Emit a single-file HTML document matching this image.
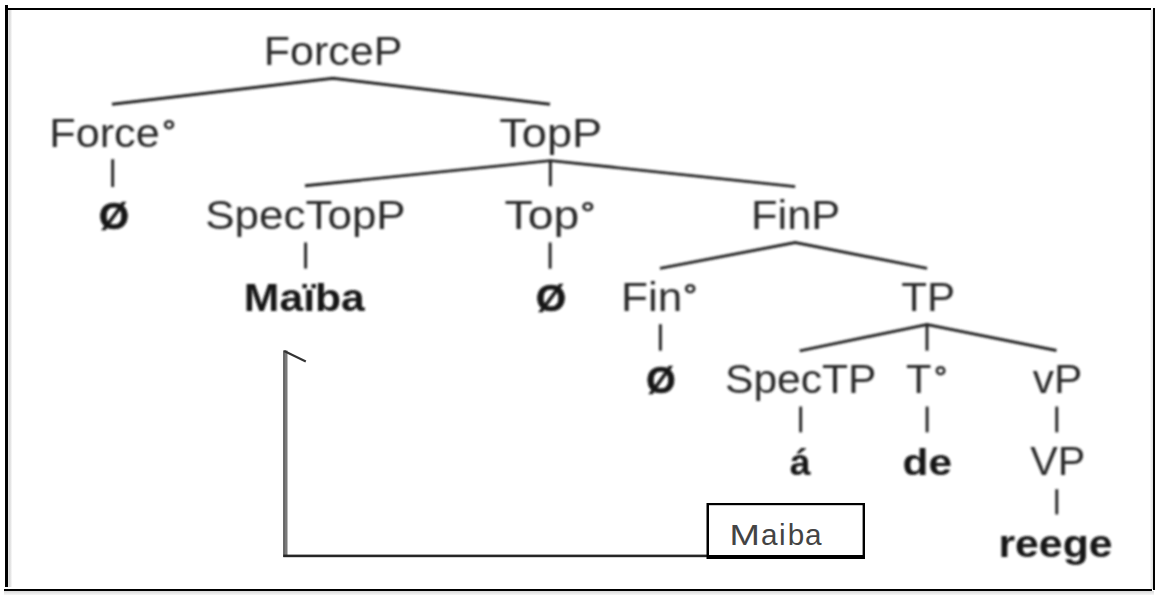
<!DOCTYPE html>
<html lang="en"><head><meta charset="utf-8"><title>ForceP syntax tree</title>
<style>html,body{margin:0;padding:0;background:#fff}svg{display:block}text{font-family:"Liberation Sans",Arial,sans-serif}</style></head><body>
<svg width="1158" height="595" viewBox="0 0 1158 595">
<defs><linearGradient id="sb" x1="0" y1="0" x2="0" y2="1"><stop offset="0" stop-color="#d8d8d8"/><stop offset="1" stop-color="#f6f6f6"/></linearGradient><linearGradient id="sl" x1="0" y1="0" x2="1" y2="0"><stop offset="0" stop-color="#e6e6e6"/><stop offset="0.4" stop-color="#d9d9d9"/><stop offset="1" stop-color="#ffffff"/></linearGradient><linearGradient id="sr" x1="0" y1="0" x2="1" y2="0"><stop offset="0" stop-color="#ffffff"/><stop offset="1" stop-color="#dddddd"/></linearGradient><filter id="bl" x="-5%" y="-5%" width="110%" height="110%"><feGaussianBlur stdDeviation="1.0"/></filter></defs>
<rect width="1158" height="595" fill="#fff"/>
<rect x="8" y="10" width="4.3" height="577" fill="url(#sl)"/>
<rect x="1149.5" y="10" width="3.5" height="579" fill="url(#sr)"/>
<rect x="4" y="591" width="1150" height="4" fill="url(#sb)"/>
<g fill="#000">
<rect x="5" y="5" width="3" height="582"/>
<rect x="8" y="8" width="1143" height="2"/>
<rect x="1153" y="8" width="2" height="582"/>
<rect x="4" y="589" width="1148" height="2"/>
</g>
<g filter="url(#bl)">
<g stroke="#242424" stroke-width="2.9" fill="none" stroke-linejoin="miter"><polyline points="112,104.3 333,78.2 550,104.3"/><line x1="112.7" y1="159.2" x2="112.7" y2="187"/><polyline points="305,185.8 550.4,160.6 795.2,186.6"/><line x1="550.4" y1="160" x2="550.4" y2="186.2"/><line x1="305.6" y1="242.5" x2="305.6" y2="268.6"/><line x1="550.1" y1="242.5" x2="550.1" y2="268.7"/><polyline points="660,268.4 795.2,242.6 927.1,268.4"/><line x1="660.4" y1="324.2" x2="660.4" y2="350.7"/><polyline points="799.7,350.8 927,324.6 1056.5,350.5"/><line x1="927" y1="324" x2="927" y2="350.7"/><line x1="800.7" y1="406.6" x2="800.7" y2="432.3"/><line x1="927.1" y1="406.6" x2="927.1" y2="432.3"/><line x1="1056.8" y1="406.6" x2="1056.8" y2="432.3"/><line x1="1056.8" y1="489.2" x2="1056.8" y2="514.4"/></g>
<text transform="translate(263.81,65.20) scale(1.0667,1)" font-size="40.29" font-weight="400" fill="#2c2c2c">ForceP</text>
<text transform="translate(49.29,147.30) scale(1.0719,1)" font-size="40.29" font-weight="400" fill="#2c2c2c">Force<tspan dx="2.39" font-size="0.79em" dy="-0.16em" stroke="#2c2c2c" stroke-width="0.9">°</tspan></text>
<text transform="translate(499.27,147.30) scale(1.1214,1)" font-size="40.29" font-weight="400" fill="#2c2c2c">TopP</text>
<text transform="translate(99.12,229.30) scale(0.9552,0.91)" font-size="40.29" font-weight="700" fill="#151515" stroke="#151515" stroke-width="0.7">Ø</text>
<text transform="translate(205.30,229.30) scale(1.0916,1)" font-size="40.29" font-weight="400" fill="#2c2c2c">SpecTopP</text>
<text transform="translate(504.54,229.30) scale(1.1495,1)" font-size="40.29" font-weight="400" fill="#2c2c2c">Top<tspan dx="1.09" font-size="0.79em" dy="-0.16em" stroke="#2c2c2c" stroke-width="0.9">°</tspan></text>
<text transform="translate(750.97,229.30) scale(1.0788,1)" font-size="40.29" font-weight="400" fill="#2c2c2c">FinP</text>
<text transform="translate(243.87,311.30) scale(1.0596,0.975)" font-size="40.29" font-weight="700" fill="#151515">Maïba</text>
<text transform="translate(536.01,311.30) scale(0.9588,0.91)" font-size="40.29" font-weight="700" fill="#151515" stroke="#151515" stroke-width="0.7">Ø</text>
<text transform="translate(621.11,311.30) scale(1.0955,1)" font-size="40.29" font-weight="400" fill="#2c2c2c">Fin<tspan dx="0.75" font-size="0.79em" dy="-0.16em" stroke="#2c2c2c" stroke-width="0.9">°</tspan></text>
<text transform="translate(901.25,311.30) scale(1.0466,1)" font-size="40.29" font-weight="400" fill="#2c2c2c">TP</text>
<text transform="translate(646.15,393.30) scale(0.9373,0.91)" font-size="40.29" font-weight="700" fill="#151515" stroke="#151515" stroke-width="0.7">Ø</text>
<text transform="translate(725.07,393.30) scale(1.0563,1)" font-size="40.29" font-weight="400" fill="#2c2c2c">SpecTP</text>
<text transform="translate(905.96,393.30) scale(1.0325,1)" font-size="40.29" font-weight="400" fill="#2c2c2c">T<tspan dx="2.54" font-size="0.79em" dy="-0.16em" stroke="#2c2c2c" stroke-width="0.9">°</tspan></text>
<text transform="translate(1032.73,393.30) scale(1.0545,1)" font-size="40.29" font-weight="400" fill="#2c2c2c">vP</text>
<text transform="translate(789.66,475.30) scale(0.9297,0.935)" font-size="40.29" font-weight="700" fill="#151515">á</text>
<text transform="translate(902.55,475.30) scale(1.0521,0.935)" font-size="40.29" font-weight="700" fill="#151515">de</text>
<text transform="translate(1030.14,475.30) scale(1.0239,1)" font-size="40.29" font-weight="400" fill="#2c2c2c">VP</text>
<text transform="translate(998.46,557.20) scale(1.0615,0.975)" font-size="40.29" font-weight="700" fill="#151515">reege</text>
</g>
<rect x="283.3" y="350.5" width="4.2" height="206.5" fill="#7a7a7a"/>
<rect x="283.3" y="350.5" width="1.2" height="206.5" fill="#555"/>
<line x1="284.2" y1="351" x2="305.8" y2="361.5" stroke="#333" stroke-width="2.2"/>
<rect x="283.3" y="554.6" width="424" height="2.6" fill="#262626"/>
<rect x="706.5" y="503" width="158.5" height="56" fill="#000"/>
<rect x="709" y="505.2" width="153.6" height="49.8" fill="#fff"/>
<text y="544.9" font-size="29.67" fill="#444"><tspan x="729.4" textLength="30.4" lengthAdjust="spacingAndGlyphs">M</tspan><tspan x="761 779.1 787.7 805">aiba</tspan></text>
</svg></body></html>
